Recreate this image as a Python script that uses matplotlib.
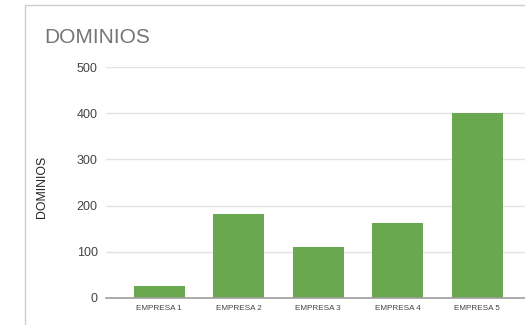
import matplotlib.pyplot as plt
from matplotlib.patches import Rectangle

empresas = ['EMPRESA 1', 'EMPRESA 2', 'EMPRESA 3', 'EMPRESA 4', 'EMPRESA 5']
dominios = [26, 182, 111, 163, 400]
yticks = [0, 100, 200, 300, 400, 500]

plt.rcParams['font.family'] = ['Liberation Sans', 'DejaVu Sans']

fig = plt.figure(figsize=(5.25, 3.25), dpi=100)

# light card border (top + left edges visible)
fig.patches.append(Rectangle((25 / 525, -0.1), 1.2, (325 - 5) / 325 + 0.1,
                             transform=fig.transFigure, fill=False,
                             edgecolor='#cccccc', linewidth=1.0))

ax = fig.add_axes([106 / 525, 27 / 325, 1 - 106 / 525, (298 - 67) / 325])
x = range(len(empresas))
ax.bar(x, dominios, width=0.64, color='#6aa84f', zorder=3)

ax.set_ylim(0, 500)
ax.set_xlim(-0.67, 4.6)
ax.set_yticks(yticks)
ax.set_xticks(list(x))
ax.set_xticklabels(empresas)
ax.grid(axis='y', color='#e3e3e3', linewidth=1.0, zorder=0)
ax.tick_params(axis='y', length=0, pad=6, labelsize=9, labelcolor='#444444')
ax.tick_params(axis='x', length=0, pad=5, labelsize=5.9, labelcolor='#444444')
for s in ['top', 'right', 'left']:
    ax.spines[s].set_visible(False)
ax.spines['bottom'].set_color('#9e9e9e')
ax.spines['bottom'].set_linewidth(1.2)
ax.spines['bottom'].set_zorder(4)

ax.set_ylabel('DOMINIOS', fontsize=8.8, color='#222222')
ax.yaxis.set_label_coords(-0.138, 0.48)

fig.text(44 / 525, (325 - 43) / 325, 'DOMINIOS', fontsize=15, color='#757575',
         ha='left', va='baseline')

fig.savefig('out.png', dpi=100)
